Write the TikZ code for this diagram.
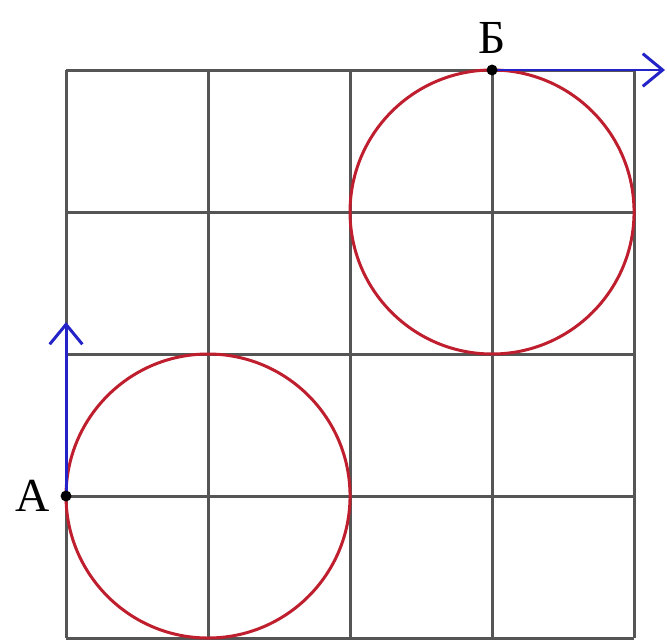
\documentclass[tikz,border=0pt]{standalone}
\usepackage{fontspec}
\setmainfont{Liberation Serif}
\usetikzlibrary{arrows.meta}
\definecolor{gridgray}{RGB}{85,85,85}
\definecolor{circred}{RGB}{190,30,45}
\definecolor{arrblue}{RGB}{35,35,200}
\tikzset{
    gridline/.style={draw=gridgray, line width=1.2pt},
    wheel/.style={draw=circred, line width=1.2pt},
    move/.style={draw=arrblue, line width=1.2pt, -{Straight Barb[length=2.8mm, width=4.6mm]}},
    pointlabel/.style={font=\fontsize{19}{22}\selectfont},
    common settings/.style={x=2cm, y=2cm}
}
\begin{document}
\begin{tikzpicture}[common settings]

    \def\r{1}  % Circle radius (one cell)

    % Page frame
    \useasboundingbox (-0.465,-0.021) rectangle (4.232,4.493);

    % Grid 4x4
    \draw[gridline, step=2cm] (0,0) grid (4,4);

    % Circles
    \draw[wheel] (1,1) circle (\r);
    \draw[wheel] (3,3) circle (\r);

    % Points
    \coordinate (A) at (0,1);
    \coordinate (B) at (3,4);
    \coordinate (Aend) at (0,2.225);
    \coordinate (Bend) at (4.218,4);

    % Moves
    \draw[move] (A) -- (Aend);
    \draw[move] (B) -- (Bend);

    \fill (A) circle (2.2pt);
    \fill (B) circle (2.2pt);

    % Labels
    \node[pointlabel, left=3pt] (labA) at (A) {А};
    \node[pointlabel, above=3pt] (labB) at (B) {Б};

\end{tikzpicture}
\end{document}
